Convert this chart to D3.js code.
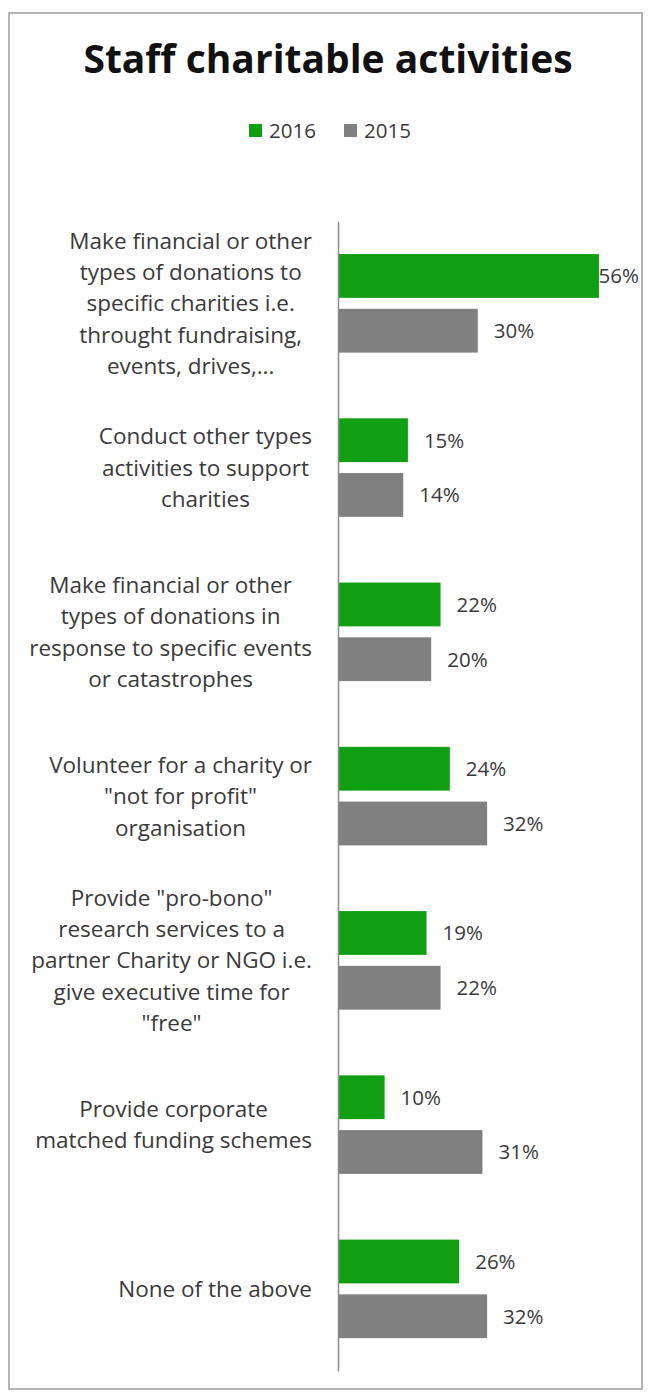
<!DOCTYPE html>
<html>
<head>
<meta charset="utf-8">
<script src="https://cdn.jsdelivr.net/npm/d3@7"></script>
<style>
  html, body { margin: 0; padding: 0; background: #ffffff; }
  svg { display: block; }
</style>
</head>
<body>
<svg id="chart" width="648" height="1393"></svg>
<script>
// Survey categories (line breaks marked with "|")
const categories = [
  "Make financial or other|types of donations to|specific charities i.e.|throught fundraising,|events, drives,...",
  "Conduct other types|activities to support|charities",
  "Make financial or other|types of donations in|response to specific events|or catastrophes",
  "Volunteer for a charity or|\"not for profit\"|organisation",
  "Provide \"pro-bono\"|research services to a|partner Charity or NGO i.e.|give executive time for|\"free\"",
  "Provide corporate|matched funding schemes",
  "None of the above"
];
const seriesNames = ["2016", "2015"];
const values2016 = [56, 15, 22, 24, 19, 10, 26];
const values2015 = [30, 14, 20, 32, 22, 31, 32];
const seriesColors = ["#109f12", "#808080"];
const titleText = "Staff charitable activities";

const rows = categories.map((c, i) => ({
  category: c,
  values: [
    { series: seriesNames[0], value: values2016[i] },
    { series: seriesNames[1], value: values2015[i] }
  ]
}));

const svg = d3.select("#chart");
const textColor = "#3a3a3a";
const labelFont = "'Open Sans', sans-serif";

// outer frame
svg.append("rect")
  .attr("x", 9).attr("y", 13)
  .attr("width", 633).attr("height", 1376)
  .attr("fill", "#ffffff")
  .attr("stroke", "#b3b3b3")
  .attr("stroke-width", 2);

// title
svg.append("text")
  .attr("x", 328).attr("y", 73)
  .attr("text-anchor", "middle")
  .attr("font-family", labelFont)
  .attr("font-weight", 700)
  .attr("font-size", 39)
  .attr("fill", "#111111")
  .text(titleText);

// legend
const legend = svg.append("g").attr("transform", "translate(249,124)");
const legendOffsets = [0, 95];
seriesNames.forEach((s, i) => {
  const g = legend.append("g").attr("transform", `translate(${legendOffsets[i]},0)`);
  g.append("rect").attr("width", 13).attr("height", 13).attr("fill", seriesColors[i]);
  g.append("text")
    .attr("x", 20).attr("y", 13.5)
    .attr("font-family", labelFont)
    .attr("font-size", 20.5)
    .attr("fill", textColor)
    .text(s);
});

// scales
const x = d3.scaleLinear().domain([0, 60]).range([338, 617.6]);
const y = d3.scaleBand()
  .domain(categories)
  .range([221.2, 1371])
  .paddingInner(0.4)
  .paddingOuter(0.2);
const ySub = d3.scaleBand()
  .domain(seriesNames)
  .range([0, y.bandwidth()])
  .paddingInner(0.2);
const color = d3.scaleOrdinal().domain(seriesNames).range(seriesColors);

// bars
const groups = svg.append("g").selectAll("g")
  .data(rows)
  .join("g")
  .attr("transform", d => `translate(0,${y(d.category)})`);

groups.selectAll("rect")
  .data(d => d.values)
  .join("rect")
  .attr("x", x(0))
  .attr("y", d => ySub(d.series))
  .attr("width", d => x(d.value) - x(0))
  .attr("height", ySub.bandwidth())
  .attr("fill", d => color(d.series));

// value labels, kept inside the frame
const rightLimit = 639;
groups.selectAll("text.value")
  .data(d => d.values)
  .join("text")
  .attr("class", "value")
  .attr("y", d => ySub(d.series) + ySub.bandwidth() / 2)
  .attr("dy", "0.36em")
  .attr("font-family", labelFont)
  .attr("font-size", 20.5)
  .attr("fill", textColor)
  .text(d => d.value + "%")
  .each(function(d) {
    const w = this.getComputedTextLength();
    const x0 = Math.min(x(d.value) + 16, rightLimit - w);
    d3.select(this).attr("x", x0);
  });

// vertical category axis
const axis = svg.append("g")
  .attr("transform", `translate(${x(0)},0)`)
  .call(d3.axisLeft(y).tickSize(0).tickFormat(""));
axis.select(".domain").attr("stroke", "#8c8c8c").attr("stroke-width", 1.5);

// wrapped category labels: lines centred within a block whose right edge sits left of the axis
const labelRight = 312;
const lineStep = 31.3;
const catLabels = svg.append("g").selectAll("text")
  .data(categories)
  .join("text")
  .attr("font-family", labelFont)
  .attr("font-size", 22.5)
  .attr("fill", textColor)
  .attr("text-anchor", "middle");

catLabels.each(function(c) {
  const lines = c.split("|");
  const t = d3.select(this);
  const cy = y(c) + y.bandwidth() / 2;
  lines.forEach((ln, i) => {
    t.append("tspan")
      .attr("x", 0)
      .attr("y", cy + (i - (lines.length - 1) / 2) * lineStep)
      .attr("dy", "0.36em")
      .text(ln);
  });
  const bb = this.getBBox();
  t.attr("transform", `translate(${labelRight - bb.width / 2},0)`);
});
</script>
</body>
</html>
